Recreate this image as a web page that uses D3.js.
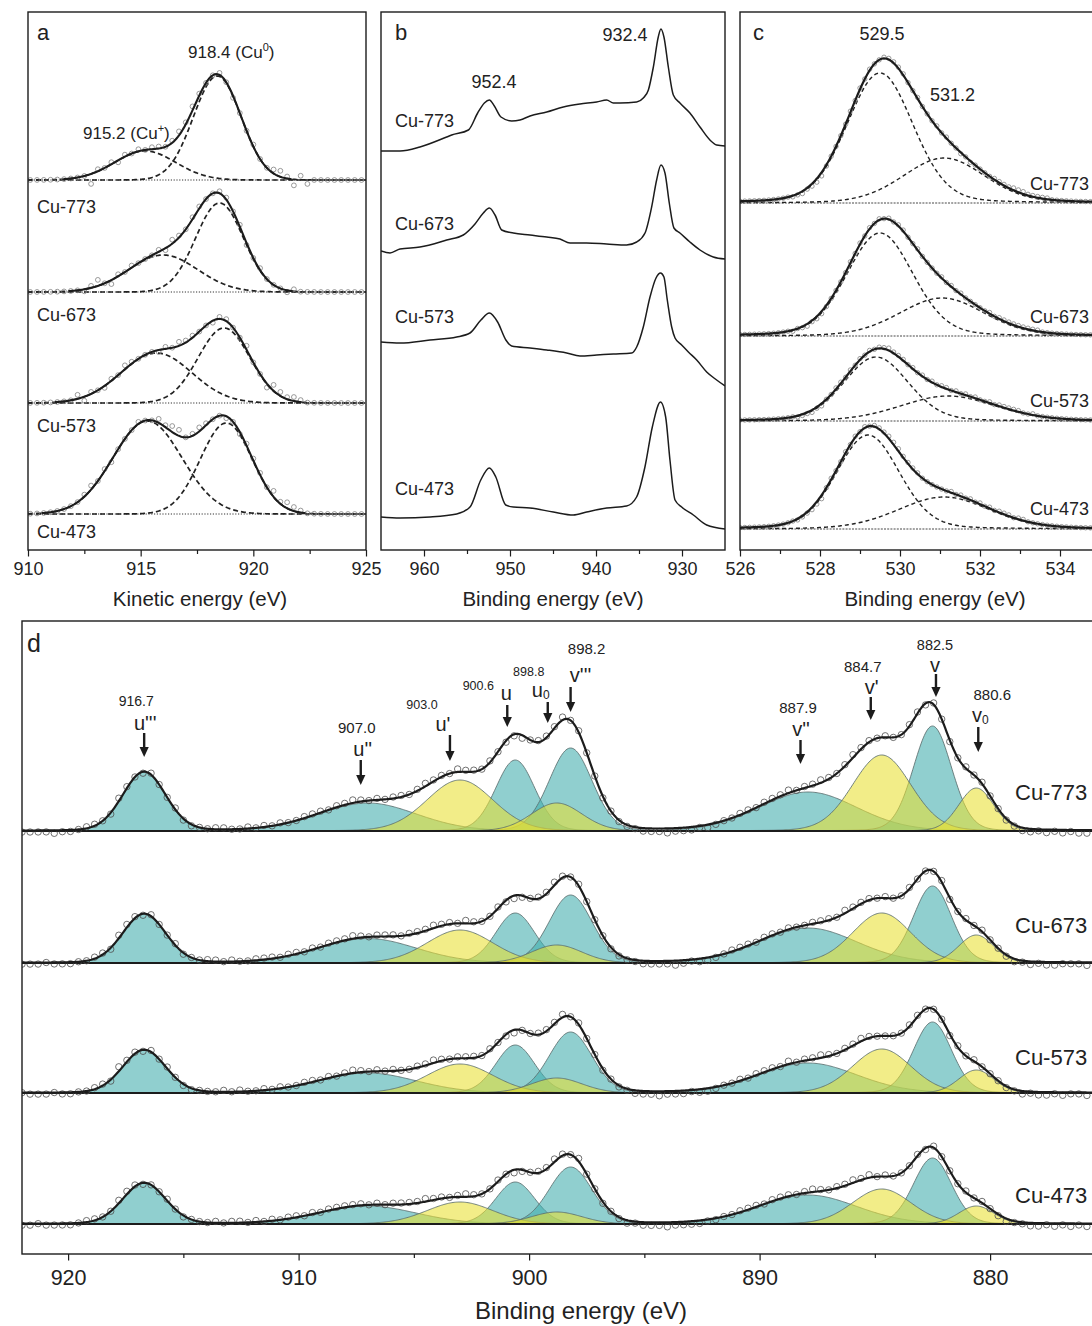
<!DOCTYPE html>
<html>
<head>
<meta charset="utf-8">
<script src="https://cdnjs.cloudflare.com/ajax/libs/d3/7.8.5/d3.min.js"></script>
<style>
  body { margin: 0; background: #fff; }
  svg { display: block; }
</style>
</head>
<body>
<svg id="fig" width="1092" height="1326"></svg>
<script>
// ---------------------------------------------------------------
// XPS of Cu/CeO2 catalysts reduced at 473-773 K
// (a) Cu LMM Auger, (b) Cu 2p, (c) O 1s, (d) Ce 3d
// ---------------------------------------------------------------
const samples = ["Cu-773", "Cu-673", "Cu-573", "Cu-473"];

// ---- (a) Cu LMM: fitted components [centre eV, height a.u., FWHM eV] ----
const lmmOffsets = [3.70, 2.58, 1.47, 0.36];
const lmmCuI = [[915.2, 0.29, 3.2], [916.0, 0.37, 3.6], [915.7, 0.50, 3.7], [915.3, 0.93, 3.6]];
const lmmCu0 = [[918.4, 1.04, 2.5], [918.5, 0.89, 2.5], [918.7, 0.75, 2.7], [918.8, 0.91, 2.7]];
// measured points: deviation from the fit, one digit per point (5 = on the fit)
const lmmResiduals = [
  ["555555", "5550", "6564656", "5665676", "765565", "4556557", "862735", "5555555"].join(""),
  ["555555", "5546", "8536565", "5564765", "665566", "5645655", "546555", "5555555"].join(""),
  ["555555", "5736", "5465765", "5546576", "655466", "5575538", "767655", "5555555"].join(""),
  ["555555", "5567", "5645556", "5576885", "676554", "5466658", "687655", "5555555"].join("")
];
const lmmTicks = [910, 915, 920, 925];
const lmmMinor = [912.5, 917.5, 922.5];

// ---- (b) Cu 2p traces ----
const cu2pEnergy = [
  [965.0, 962.79, 960.47, 957.36, 956.78, 954.84, 953.76, 952.98, 952.4, 951.82, 951.05, 949.81, 948.84, 947.67,
   945.73, 943.80, 941.86, 939.92, 938.76, 937.98, 937.21, 935.27, 934.50, 933.91, 933.33, 932.76, 932.45, 932.10,
   931.59, 931.01, 930.24, 929.08, 927.91, 926.75, 925.97, 925.0],
  [965.0, 963.95, 962.79, 960.47, 957.36, 955.43, 954.07, 953.1, 952.4, 951.74, 950.97, 949.61, 947.67, 945.73,
   944.19, 943.02, 941.09, 938.76, 936.44, 935.27, 934.30, 933.53, 932.95, 932.45, 931.98, 931.48, 930.94, 930.24,
   929.08, 927.91, 926.36, 925.0],
  [965.0, 962.79, 959.3, 956.2, 954.65, 953.38, 952.4, 951.44, 950.48, 949.81, 947.67, 945.73, 943.41, 941.86,
   939.92, 937.98, 935.85, 935.27, 934.50, 933.72, 933.02, 932.5, 932.1, 931.71, 931.20, 930.81, 930.04, 929.26,
   928.29, 927.13, 925.97, 925.0],
  [965.0, 962.79, 959.3, 956.2, 954.65, 953.4, 952.4, 951.65, 950.5, 949.61, 947.67, 944.96, 942.64, 941.09,
   938.76, 936.44, 935.28, 934.31, 933.45, 932.5, 931.9, 931.4, 930.81, 930.04, 928.68, 927.13, 925.0]
];
const cu2pCounts = [
  [4.00, 4.00, 4.04, 4.14, 4.16, 4.21, 4.38, 4.48, 4.51, 4.45, 4.34, 4.30, 4.31, 4.35,
   4.39, 4.44, 4.47, 4.49, 4.51, 4.48, 4.48, 4.49, 4.53, 4.61, 4.84, 5.14, 5.22, 5.14,
   4.84, 4.56, 4.48, 4.38, 4.24, 4.11, 4.06, 4.05],
  [3.00, 2.98, 3.02, 3.04, 3.11, 3.16, 3.27, 3.38, 3.43, 3.36, 3.21, 3.18, 3.16, 3.14,
   3.12, 3.08, 3.08, 3.07, 3.06, 3.09, 3.18, 3.44, 3.71, 3.86, 3.78, 3.48, 3.23, 3.18,
   3.09, 3.01, 2.94, 2.92],
  [2.09, 2.08, 2.11, 2.14, 2.18, 2.31, 2.38, 2.29, 2.11, 2.05, 2.03, 2.01, 1.98, 1.95,
   1.96, 1.97, 1.98, 2.04, 2.24, 2.54, 2.73, 2.78, 2.74, 2.51, 2.24, 2.13, 2.06, 1.99,
   1.91, 1.79, 1.71, 1.65],
  [0.34, 0.33, 0.34, 0.37, 0.44, 0.71, 0.83, 0.74, 0.46, 0.44, 0.43, 0.39, 0.36, 0.39,
   0.43, 0.45, 0.54, 0.84, 1.24, 1.49, 1.34, 0.91, 0.51, 0.44, 0.36, 0.26, 0.22]
];
const cu2pTicks = [960, 950, 940, 930];
const cu2pMinor = [955, 945, 935];

// ---- (c) O 1s: lattice and surface oxygen [centre eV, height a.u., FWHM eV] ----
const o1sOffsets = [3.47, 2.14, 1.29, 0.21];
const o1sLattice = [[529.5, 1.30, 1.95], [529.5, 1.03, 1.95], [529.4, 0.64, 1.9], [529.2, 0.94, 1.85]];
const o1sSurface = [[531.1, 0.45, 2.4], [531.05, 0.38, 2.5], [531.2, 0.25, 2.8], [531.1, 0.32, 2.7]];
const o1sResiduals = [
  ["5555555555544", "34322455", "5565656556", "6666556555", "6565545455", "5566667776", "666655555555555"].join(""),
  ["5555555555545", "43433455", "5565656565", "6566556555", "5656565555", "5656666666", "665555555555555"].join(""),
  ["5555555555554", "44343556", "6565656566", "7666565656", "5665656565", "5656666655", "655555555555555"].join(""),
  ["5555555555554", "44332565", "5656565666", "7776666555", "5556565656", "5656665665", "555555555555555"].join("")
];
const o1sTicks = [526, 528, 530, 532, 534];
const o1sMinor = [527, 529, 531, 533];

// ---- (d) Ce 3d: ten fitted lines ----
const ceLines   = ["u'''", "u''", "u'", "u", "u0", "v'''", "v''", "v'", "v", "v0"];
const ceCentres = [916.7, 907.0, 903.0, 900.6, 898.8, 898.2, 887.9, 884.7, 882.5, 880.6];
const ceWidths  = [2.2, 5.0, 3.4, 2.0, 2.6, 2.2, 5.0, 3.0, 1.95, 1.8];
const ceStates  = ["Ce4+", "Ce4+", "Ce3+", "Ce4+", "Ce3+", "Ce4+", "Ce4+", "Ce3+", "Ce4+", "Ce3+"];
const ceHeights = [
  [0.59, 0.28, 0.51, 0.71, 0.28, 0.83, 0.39, 0.76, 1.05, 0.43],
  [0.49, 0.245, 0.33, 0.50, 0.18, 0.68, 0.35, 0.50, 0.77, 0.28],
  [0.43, 0.20, 0.29, 0.48, 0.15, 0.61, 0.30, 0.44, 0.71, 0.23],
  [0.41, 0.18, 0.22, 0.42, 0.12, 0.57, 0.29, 0.35, 0.66, 0.18]
];
const ceOffsets = [4.23, 2.91, 1.61, 0.30];
const ceResiduals = [
  ["4444344", "5665476546556445", "56655656565", "566656676565665", "67665766", "56544356667565",
   "545444", "333233343", "45566566675", "667656766565", "56646545656", "5544334343433"].join(""),
  ["4445444", "5566477646556455", "66565566656", "656566676566656", "66766576", "55643456676565",
   "554444", "333323433", "45666566565", "566657666565", "56555645656", "5543434334443"].join(""),
  ["5444544", "5566486646565445", "55656556565", "566565676565655", "66765666", "56543556667565",
   "545443", "332333433", "45565666575", "667656676555", "56655546565", "5544343343443"].join(""),
  ["4454444", "5665577645565455", "56566565656", "656566666565666", "67665676", "55653456676575",
   "545434", "333233334", "45566656665", "676566767565", "55646555656", "5434433434343"].join("")
];
const ceTicks = [920, 910, 900, 890, 880];
const ceMinor = [915, 905, 895, 885];

// placement of the Ce 3d line markers (pixels):
// arrow dx, arrow top, arrow tip, number dx, number baseline, number size, letter dx, letter baseline
const ceMarkLayout = [
  [0, 733, 757, -8, 706, 14, 1, 729.5],
  [-7, 760, 785, -11, 733, 15, -5, 755.5],
  [-10, 735, 761, -38, 709, 12.5, -17, 730.5],
  [-8, 705, 727, -37, 690, 12.5, -9, 700],
  [-9, 702, 723, -28, 676, 12.5, -16, 697],
  [0, 687, 712, 16, 654, 15, 10, 682],
  [-7.5, 740, 764, -10, 713, 15, -7, 735.5],
  [-11, 697, 720, -19, 672, 15, -10, 694],
  [3.5, 674, 697, 2.5, 650, 14.5, 2.5, 672],
  [2, 727, 752, 16, 700, 15, 4, 722]
];

// ---------------------------------------------------------------
const FONT = "'Liberation Sans', Arial, Helvetica, sans-serif";
const INK = "#1c1c1c";
const svg = d3.select("#fig").attr("font-family", FONT);

// Gaussian-Lorentzian line, p = [centre, height, FWHM]
function gl(x, p, m) {
  const d = x - p[0], w2 = p[2] * p[2];
  return p[1] * ((1 - m) * Math.exp(-4 * Math.LN2 * d * d / w2) + m / (1 + 4 * d * d / w2));
}
const digit = ch => (+ch) - 5;

function makePanel(id, x0, y0, x1, y1) {
  svg.append("clipPath").attr("id", id).append("rect")
    .attr("x", x0).attr("y", y0).attr("width", x1 - x0).attr("height", y1 - y0);
  const g = svg.append("g");
  const plot = g.append("g").attr("clip-path", `url(#${id})`);
  return { g, plot, frame: () => g.append("rect").attr("x", x0).attr("y", y0)
      .attr("width", x1 - x0).attr("height", y1 - y0)
      .attr("fill", "none").attr("stroke", INK).attr("stroke-width", 1.4) };
}

function bottomAxis(g, scale, y, major, minor, fs, pad) {
  g.append("g").attr("transform", `translate(0,${y})`)
    .call(d3.axisBottom(scale).tickValues(minor).tickSize(4).tickSizeOuter(0).tickFormat(""))
    .call(s => s.select(".domain").remove())
    .call(s => s.selectAll("line").attr("stroke", INK).attr("stroke-width", 1.2));
  g.append("g").attr("transform", `translate(0,${y})`)
    .call(d3.axisBottom(scale).tickValues(major).tickSize(6.5).tickSizeOuter(0).tickPadding(pad).tickFormat(d3.format("d")))
    .attr("font-family", null).attr("font-size", null)
    .call(s => s.select(".domain").remove())
    .call(s => s.selectAll("line").attr("stroke", INK).attr("stroke-width", 1.2))
    .call(s => s.selectAll("text").attr("font-size", fs).attr("fill", "#222"));
}

function label(g, x, y, s, fs, anchor) {
  return g.append("text").attr("x", x).attr("y", y).attr("font-size", fs)
    .attr("fill", "#222").attr("text-anchor", anchor || "start").text(s);
}

// =================== (a) Cu LMM ===================
{
  const X = d3.scaleLinear().domain([910, 925]).range([28, 366]);
  const Y = d3.scaleLinear().domain([0, 5.38]).range([550, 12]);
  const P = makePanel("clipA", 28, 12, 366, 550);
  const grid = d3.range(910, 925.0001, 0.05);
  const ln = d3.line().x(d => X(d[0])).y(d => Y(d[1]));

  samples.forEach((s, k) => {
    const off = lmmOffsets[k];
    const comps = [lmmCuI[k], lmmCu0[k]];
    const fit = e => comps.reduce((a, p) => a + gl(e, p, 0), 0);

    P.plot.append("path").attr("d", ln([[910, off], [925, off]]))
      .attr("fill", "none").attr("stroke", "#333").attr("stroke-width", 1).attr("stroke-dasharray", "1.2,1.6");
    comps.forEach(p => P.plot.append("path")
      .attr("d", ln(grid.map(e => [e, off + gl(e, p, 0)])))
      .attr("fill", "none").attr("stroke", "#222").attr("stroke-width", 1.7).attr("stroke-dasharray", "5,3"));

    const pts = Array.from(lmmResiduals[k], (ch, i) => {
      const e = 910.1 + 0.3 * i;
      return [e, off + fit(e) + 0.02 * digit(ch)];
    });
    P.plot.append("g").selectAll("circle").data(pts).join("circle")
      .attr("cx", d => X(d[0])).attr("cy", d => Y(d[1])).attr("r", 2.4)
      .attr("fill", "none").attr("stroke", "#808080").attr("stroke-width", 0.8);

    P.plot.append("path")
      .attr("d", ln(grid.filter(e => fit(e) > 0.008).map(e => [e, off + fit(e)])))
      .attr("fill", "none").attr("stroke", INK).attr("stroke-width", 2.1);
  });
  P.frame();
  bottomAxis(P.g, X, 550, lmmTicks, lmmMinor, 18, 5.6);
  label(P.g, 37, 40, "a", 22);
  const t1 = label(P.g, 188, 58, "918.4 (Cu", 17);
  t1.append("tspan").attr("font-size", 11).attr("dy", -7).text("0");
  t1.append("tspan").attr("dy", 7).text(")");
  const t2 = label(P.g, 83, 139, "915.2 (Cu", 17);
  t2.append("tspan").attr("font-size", 11).attr("dy", -7).text("+");
  t2.append("tspan").attr("dy", 7).text(")");
  [213, 321, 431.5, 538].forEach((y, k) => label(P.g, 37, y, samples[k], 18));
  label(P.g, 200, 606, "Kinetic energy (eV)", 20.5, "middle");
}

// =================== (b) Cu 2p ===================
{
  const X = d3.scaleLinear().domain([965, 925]).range([381, 725]);
  const Y = d3.scaleLinear().domain([0, 5.39]).range([551, 12]);
  const P = makePanel("clipB", 381, 12, 725, 550);
  const ln = d3.line().x(d => X(d[0])).y(d => Y(d[1])).curve(d3.curveMonotoneX);
  samples.forEach((s, k) => {
    const pts = cu2pEnergy[k].map((e, i) => [e, cu2pCounts[k][i]]).sort((a, b) => a[0] - b[0]);
    P.plot.append("path").attr("d", ln(pts))
      .attr("fill", "none").attr("stroke", INK).attr("stroke-width", 1.5);
  });
  P.frame();
  bottomAxis(P.g, X, 550, cu2pTicks, cu2pMinor, 18, 5.6);
  label(P.g, 395, 40, "b", 22);
  label(P.g, 494, 88, "952.4", 18, "middle");
  label(P.g, 625, 41, "932.4", 18, "middle");
  [127, 230, 323, 495].forEach((y, k) => label(P.g, 395, y, samples[k], 18));
  label(P.g, 553, 606, "Binding energy (eV)", 20.5, "middle");
}

// =================== (c) O 1s ===================
{
  const X = d3.scaleLinear().domain([526, 535]).range([740, 1100]);
  const Y = d3.scaleLinear().domain([0, 5.38]).range([550, 12]);
  const P = makePanel("clipC", 740, 12, 1100, 550);
  const grid = d3.range(526, 535.0001, 0.03);
  const ln = d3.line().x(d => X(d[0])).y(d => Y(d[1]));
  const M = 0.15;
  samples.forEach((s, k) => {
    const off = o1sOffsets[k];
    const comps = [o1sLattice[k], o1sSurface[k]];
    const fit = e => comps.reduce((a, p) => a + gl(e, p, M), 0);

    P.plot.append("path").attr("d", ln([[526, off], [535, off]]))
      .attr("fill", "none").attr("stroke", "#333").attr("stroke-width", 0.9).attr("stroke-dasharray", "2,1.2");
    comps.forEach(p => P.plot.append("path")
      .attr("d", ln(grid.map(e => [e, off + gl(e, p, M)])))
      .attr("fill", "none").attr("stroke", "#222").attr("stroke-width", 1.4).attr("stroke-dasharray", "4,3"));

    const pts = Array.from(o1sResiduals[k], (ch, i) => {
      const e = 526.0 + 0.12 * i;
      return [e, off + fit(e) + 0.012 * digit(ch)];
    });
    P.plot.append("g").selectAll("circle").data(pts).join("circle")
      .attr("cx", d => X(d[0])).attr("cy", d => Y(d[1])).attr("r", 2.2)
      .attr("fill", "none").attr("stroke", "#808080").attr("stroke-width", 0.8);

    P.plot.append("path").attr("d", ln(grid.map(e => [e, off + fit(e)])))
      .attr("fill", "none").attr("stroke", INK).attr("stroke-width", 2.2);
  });
  P.frame();
  bottomAxis(P.g, X, 550, o1sTicks, o1sMinor, 18, 5.6);
  label(P.g, 753, 40, "c", 22);
  label(P.g, 882, 40, "529.5", 18, "middle");
  label(P.g, 930, 101, "531.2", 18);
  [190, 323, 406.5, 515].forEach((y, k) => label(P.g, 1030, y, samples[k], 18));
  label(P.g, 935, 606, "Binding energy (eV)", 20.5, "middle");
}

// =================== (d) Ce 3d ===================
{
  const X = d3.scaleLinear().domain([922, 875]).range([22, 1105.35]);
  const Y = d3.scaleLinear().domain([0, 6.33]).range([1254, 621]);
  const P = makePanel("clipD", 22, 621, 1105.35, 1254);
  const grid = d3.range(875, 922.0001, 0.05);
  const ln = d3.line().x(d => X(d[0])).y(d => Y(d[1]));
  const M = 0.1;
  const fillOf = { "Ce4+": "rgb(63,172,172)", "Ce3+": "rgb(232,224,50)" };

  samples.forEach((s, k) => {
    const off = ceOffsets[k];
    const comps = ceCentres.map((c, j) => [c, ceHeights[k][j], ceWidths[j]]);
    const fit = e => comps.reduce((a, p) => a + gl(e, p, M), 0);
    const area = d3.area().x(d => X(d[0])).y0(Y(off)).y1(d => Y(d[1]));

    // Ce4+ lines first, Ce3+ lines laid over them
    ["Ce4+", "Ce3+"].forEach(state => {
      comps.forEach((p, j) => {
        if (ceStates[j] !== state) return;
        const pts = grid.filter(e => Math.abs(e - p[0]) < 4 * p[2]).map(e => [e, off + gl(e, p, M)]);
        P.plot.append("path").attr("d", area(pts))
          .attr("fill", fillOf[state]).attr("fill-opacity", 0.58)
          .attr("stroke", "#5c6e6e").attr("stroke-width", 1).attr("stroke-opacity", 0.85);
      });
    });

    P.plot.append("path").attr("d", ln([[922, off], [875, off]]))
      .attr("fill", "none").attr("stroke", INK).attr("stroke-width", 2);

    const pts = Array.from(ceResiduals[k], (ch, i) => {
      const e = 922 - 0.35 * i;
      return [e, off + fit(e) + 0.015 * digit(ch)];
    });
    P.plot.append("g").selectAll("circle").data(pts).join("circle")
      .attr("cx", d => X(d[0])).attr("cy", d => Y(d[1])).attr("r", 3.2)
      .attr("fill", "none").attr("stroke", "#4d4d4d").attr("stroke-width", 0.8);

    P.plot.append("path").attr("d", ln(grid.map(e => [e, off + fit(e)])))
      .attr("fill", "none").attr("stroke", INK).attr("stroke-width", 2.2);
  });

  // line markers: energy, name and arrow
  ceLines.forEach((name, j) => {
    const [adx, aTop, aTip, ndx, nBase, nSize, ldx, lBase] = ceMarkLayout[j];
    const x = X(ceCentres[j]);
    label(P.g, x + ndx, nBase, ceCentres[j].toFixed(1), nSize, "middle");
    const base = name.replace("0", "");
    const t = label(P.g, x + ldx, lBase, base, 20, "middle");
    if (name.endsWith("0")) t.append("tspan").attr("font-size", 12).attr("dy", 2).text("0");
    const ax = x + adx;
    P.g.append("line").attr("x1", ax).attr("x2", ax).attr("y1", aTop).attr("y2", aTip - 8)
      .attr("stroke", INK).attr("stroke-width", 2.4);
    P.g.append("path").attr("d", `M${ax - 4.6},${aTip - 10}L${ax + 4.6},${aTip - 10}L${ax},${aTip}Z`)
      .attr("fill", INK);
  });

  P.frame();
  bottomAxis(P.g, X, 1254, ceTicks, ceMinor, 21.5, 9.4);
  label(P.g, 27, 652, "d", 25);
  [800, 933, 1065, 1203].forEach((y, k) => label(P.g, 1015, y, samples[k], 22));
  label(P.g, 581, 1319, "Binding energy (eV)", 24, "middle");
}
</script>
</body>
</html>
